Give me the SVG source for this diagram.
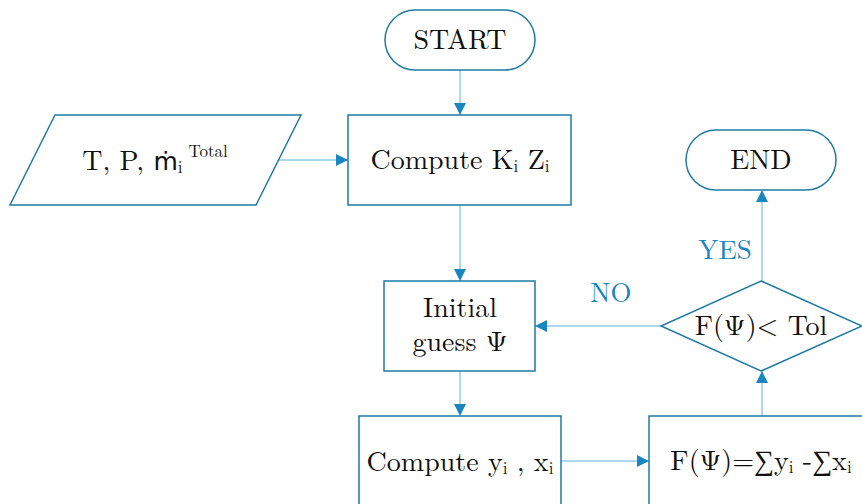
<svg xmlns="http://www.w3.org/2000/svg" width="862" height="504" viewBox="0 0 862 504">
<style>
.shape{fill:#fff;stroke:#1f7aa6;stroke-width:1.5}
.conn{fill:none;stroke:#5eb0d8;stroke-width:1}
.t{font-size:28px;fill:#111;text-anchor:middle}
.sub{font-size:17px}
.lbl{font-size:27px;fill:#1a86c0;text-anchor:middle}
</style>
<defs>
<marker id="ah" viewBox="0 0 10 10" refX="10" refY="5" markerWidth="12" markerHeight="12" markerUnits="userSpaceOnUse" orient="auto">
<path d="M0,0 L10,5 L0,10 z" fill="#1a86c0"/>
</marker>
</defs>
<g font-family="Latin Modern Roman, Liberation Serif, serif">
<g id="connectors">
<line class="conn" x1="460" y1="70" x2="460" y2="115" marker-end="url(#ah)"/>
<line class="conn" x1="279" y1="160" x2="348" y2="160" marker-end="url(#ah)"/>
<line class="conn" x1="460" y1="205" x2="460" y2="281" marker-end="url(#ah)"/>
<line class="conn" x1="460" y1="371" x2="460" y2="416" marker-end="url(#ah)"/>
<line class="conn" x1="561" y1="461" x2="649" y2="461" marker-end="url(#ah)"/>
<line class="conn" x1="762" y1="416" x2="762" y2="371" marker-end="url(#ah)"/>
<line class="conn" x1="661" y1="326" x2="535" y2="326" marker-end="url(#ah)"/>
<line class="conn" x1="762" y1="281" x2="762" y2="190" marker-end="url(#ah)"/>
<text class="lbl" x="611" y="302">NO</text>
<text class="lbl" x="725" y="259">YES</text>
</g>
<g id="start">
<rect class="shape" x="385" y="10" width="150" height="60" rx="30"/>
<text class="t" x="460" y="49" font-size="29">START</text>
</g>
<g id="input">
<polygon class="shape" points="55,115 301,115 256,205 10,205"/>
<text class="t" x="155" y="170">T, P, <tspan font-family="DejaVu Sans, Liberation Sans, sans-serif" font-size="25">ṁ</tspan><tspan class="sub" dy="3">i</tspan><tspan font-size="17" dx="6" dy="-16">Total</tspan></text>
</g>
<g id="computeKZ">
<rect class="shape" x="348" y="115" width="223" height="90"/>
<text class="t" x="460" y="169">Compute K<tspan class="sub" dy="3">i</tspan><tspan dy="-3"> Z</tspan><tspan class="sub" dy="3">i</tspan></text>
</g>
<g id="initial">
<rect class="shape" x="384" y="281" width="151" height="90"/>
<text class="t"><tspan x="460" y="317">Initial</tspan><tspan x="460" y="351">guess Ψ</tspan></text>
</g>
<g id="computeYX">
<rect class="shape" x="359" y="416" width="202" height="100"/>
<text class="t" x="460" y="471">Compute y<tspan class="sub" dy="3">i</tspan><tspan dy="-3"> , x</tspan><tspan class="sub" dy="3">i</tspan></text>
</g>
<g id="func">
<rect class="shape" x="649" y="416" width="230" height="100"/>
<text class="t" x="761" y="470" font-size="27">F(Ψ)=∑y<tspan class="sub" dy="3">i</tspan><tspan dy="-3"> -∑x</tspan><tspan class="sub" dy="3">i</tspan></text>
</g>
<g id="decision">
<polygon class="shape" points="761,281 862,326 761,371 661,326"/>
<text class="t" x="761" y="335">F(Ψ)&lt; Tol</text>
</g>
<g id="end">
<rect class="shape" x="686" y="130" width="150" height="60" rx="30"/>
<text class="t" x="761" y="169">END</text>
</g>
</g>
</svg>
